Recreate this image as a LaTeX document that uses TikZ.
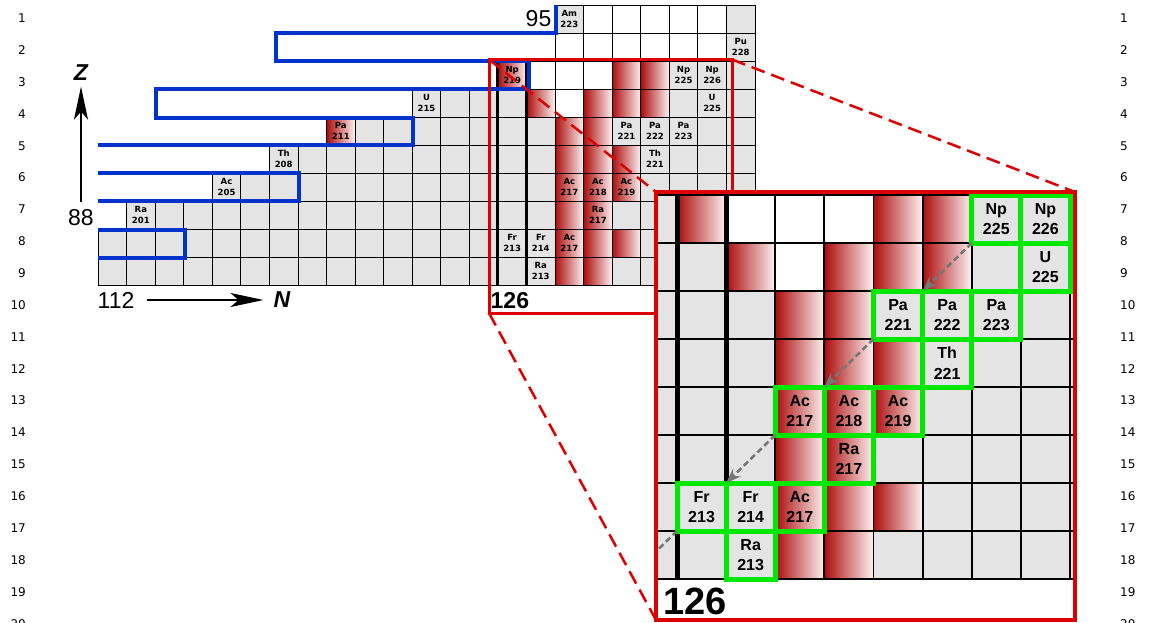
\documentclass[tikz,border=0pt]{standalone}
\usepackage{fontspec}
\setmainfont{Liberation Sans}
\newfontfamily\dvfont{DejaVu Sans}
\usetikzlibrary{arrows.meta}

\definecolor{cellgray}{RGB}{228,228,228}
\definecolor{rdark}{RGB}{172,12,12}
\definecolor{rlight}{RGB}{253,242,242}
\definecolor{foldblue}{RGB}{0,51,204}
\definecolor{zoomred}{RGB}{222,0,0}
\definecolor{boxgreen}{RGB}{0,232,0}
\definecolor{decaygray}{RGB}{118,118,118}

\tikzset{
  gridline/.style={draw=black, line width=0.9pt},
  barline/.style={draw=black, line width=3pt},
  fold/.style={draw=foldblue, line width=4pt, line join=miter},
  zoombox/.style={draw=zoomred, line width=3pt},
  zoomline/.style={draw=zoomred, line width=2.5pt, dash pattern=on 14pt off 7pt},
  greenbox/.style={draw=boxgreen, line width=5pt},
  decay/.style={draw=decaygray, line width=2.6pt, dash pattern=on 6pt off 3.5pt},
  decaytip/.style={decay, -{Stealth[length=15pt,width=11pt,inset=5pt]}},
  axis/.style={draw=black, line width=1.8pt, -{Stealth[length=33pt,width=14pt,inset=8pt]}},
  linenum/.style={font=\dvfont\fontsize{12}{14}\selectfont, inner sep=0pt},
  smalllabel/.style={font=\dvfont\bfseries\fontsize{8.5}{11}\selectfont, align=center, inner sep=0pt},
  biglabel/.style={font=\bfseries\fontsize{16}{20.5}\selectfont, align=center, inner sep=0pt},
  axisnum/.style={font=\fontsize{23}{26}\selectfont, inner sep=0pt},
  axisname/.style={font=\bfseries\itshape\fontsize{23}{26}\selectfont, inner sep=0pt},
}

% cells of the folded chart, in cell units: column c spans [c-1,c], row r spans [r-1,r]
\newcommand\chartcells{%
  % grey cells, given as row / first column / last column
  \foreach \r/\a/\b in {1/17/17, 1/23/23, 2/23/23, 3/21/23, 4/12/15, 4/21/23,
      5/10/16, 5/19/23, 6/7/16, 6/20/23, 7/5/16, 7/20/23, 8/2/16, 8/19/23,
      9/1/16, 9/20/23, 10/1/16, 10/19/23}
    {\foreach \c in {\a,...,\b} {\fill[cellgray] (\c-1,\r-1) rectangle (\c,\r);}}
  % shaded cells
  \foreach \r/\cs in {3/{15,19,20}, 4/{16,18,19,20}, 5/{9,17,18}, 6/{17,18,19},
      7/{17,18,19}, 8/{17,18}, 9/{17,18,19}, 10/{17,18}}
    {\foreach \c in \cs {\shade[left color=rdark, right color=rlight] (\c-1,\r-1) rectangle (\c,\r);}}
  % cell borders
  \foreach \r/\a/\b in {1/17/23, 2/17/23, 3/15/23, 4/12/23, 5/9/23, 6/7/23,
      7/5/23, 8/2/23, 9/1/23, 10/1/23}
    {\foreach \c in {\a,...,\b} {\draw[gridline] (\c-1,\r-1) rectangle (\c,\r);}}
}

\begin{document}
\begin{tikzpicture}[x=1pt, y=-1pt]
\useasboundingbox (0,0) rectangle (1151,622);

% line numbers on both margins
\foreach \n in {1,...,20} {
  \node[linenum, anchor=east] (ln\n) at (26, {18.3+31.86*(\n-1)}) {\n};
  \node[linenum, anchor=west] (rn\n) at (1120, {18.3+31.86*(\n-1)}) {\n};
}

% ---------- folded chart ----------
\begin{scope}[shift={(98pt,-5pt)}, x=28.565pt, y=-28pt]
  \chartcells
  \draw[barline] (14,2) -- (14,10);
  \draw[barline] (15,2) -- (15,10);
  \foreach \c/\r/\el/\m in {17/1/Am/223, 23/2/Pu/228, 15/3/Np/219, 21/3/Np/225,
      22/3/Np/226, 12/4/U/215, 22/4/U/225, 9/5/Pa/211, 19/5/Pa/221, 20/5/Pa/222,
      21/5/Pa/223, 7/6/Th/208, 20/6/Th/221, 5/7/Ac/205, 17/7/Ac/217, 18/7/Ac/218,
      19/7/Ac/219, 2/8/Ra/201, 18/8/Ra/217, 15/9/Fr/213, 16/9/Fr/214, 17/9/Ac/217,
      16/10/Ra/213}
    {\node[smalllabel] (s\c-\r) at (\c-0.5,\r-0.5) {\el\\\m};}
\end{scope}

% fold outline of the rows
\draw[fold] (556,5) -- (556,33) -- (275.5,33) -- (275.5,61) -- (528.5,61)
  -- (528.5,89) -- (156,89) -- (156,117.5) -- (413,117.5) -- (413,145) -- (98,145);
\draw[fold] (98,173) -- (299,173) -- (299,201) -- (98,201);
\draw[fold] (98,229.5) -- (184.5,229.5) -- (184.5,257.5) -- (98,257.5);

% axes
\node[axisnum] (z88) at (81,217.5) {88};
\node[axisname] (zname) at (81,72.5) {Z};
\draw[axis, shorten <=7.5pt, shorten >=6pt] (z88) -- (zname);
\node[axisnum] (n112) at (116,300) {112};
\node[axisname] (nname) at (282,300) {N};
\draw[axis, shorten <=12pt, shorten >=10pt] (n112) -- (nname);
\node[axisnum, anchor=east] (z95) at (551.5,18.3) {95};
\node[font=\bfseries\fontsize{23}{26}\selectfont, inner sep=0pt, anchor=west] (n126s) at (490.5,300.5) {126};

% zoomed region and its projection lines
\draw[zoombox] (489,59.5) rectangle (732,313);
\coordinate (sNW) at (489,59.5);
\coordinate (sNE) at (732,59.5);
\coordinate (sSW) at (489,313);
\coordinate (iNW) at (656,192);
\coordinate (iNE) at (1075,192);
\coordinate (iSW) at (656,620);
\draw[zoomline] (sNW) -- (iNW);
\draw[zoomline] (sNE) -- (iNE);
\draw[zoomline] (sSW) -- (iSW);

% ---------- enlarged view ----------
\fill[white] (656,192) rectangle (1075,620);
\begin{scope}
  \clip (657.5,193.5) rectangle (1073.5,618.5);
  \begin{scope}[shift={(-10.75pt,-99pt)}, x=49.125pt, y=-48pt, gridline/.style={draw=black, line width=1.8pt}]
    \fill[cellgray] (13,2) rectangle (14,3);
    \chartcells
    \draw[gridline] (13,2) rectangle (14,3);
    \draw[barline, line width=5pt] (14,2) -- (14,10);
    \draw[barline, line width=5pt] (15,2) -- (15,10);
    \foreach \c/\r in {21/3, 22/3, 22/4, 19/5, 20/5, 21/5, 20/6, 17/7, 18/7, 19/7,
        18/8, 15/9, 16/9, 17/9, 16/10}
      {\draw[greenbox] (\c-1,\r-1) rectangle (\c,\r);}
    \foreach \c/\r/\el/\m in {21/3/Np/225, 22/3/Np/226, 22/4/U/225, 19/5/Pa/221,
        20/5/Pa/222, 21/5/Pa/223, 20/6/Th/221, 17/7/Ac/217, 18/7/Ac/218,
        19/7/Ac/219, 18/8/Ra/217, 15/9/Fr/213, 16/9/Fr/214, 17/9/Ac/217, 16/10/Ra/213}
      {\node[biglabel] (b\c-\r) at (\c-0.5,\r-0.5) {\el\\\m};}
    \coordinate (d1a) at (20,3);  \coordinate (d1b) at (19,4);
    \coordinate (d2a) at (18,5);  \coordinate (d2b) at (17,6);
    \coordinate (d3a) at (16,7);  \coordinate (d3b) at (15,8);
    \coordinate (d4a) at (14,9);  \coordinate (d4b) at (13,10);
    \draw[decaytip] (d1a) -- (d1b);
    \draw[decaytip] (d2a) -- (d2b);
    \draw[decaytip] (d3a) -- (d3b);
    \draw[decay] (d4a) -- (d4b);
  \end{scope}
\end{scope}
\node[font=\bfseries\fontsize{38}{42}\selectfont, inner sep=0pt, anchor=west] (n126b) at (663,601.5) {126};
\draw[zoombox, line width=3.5pt] (656,192) rectangle (1075,620);

\end{tikzpicture}
\end{document}
